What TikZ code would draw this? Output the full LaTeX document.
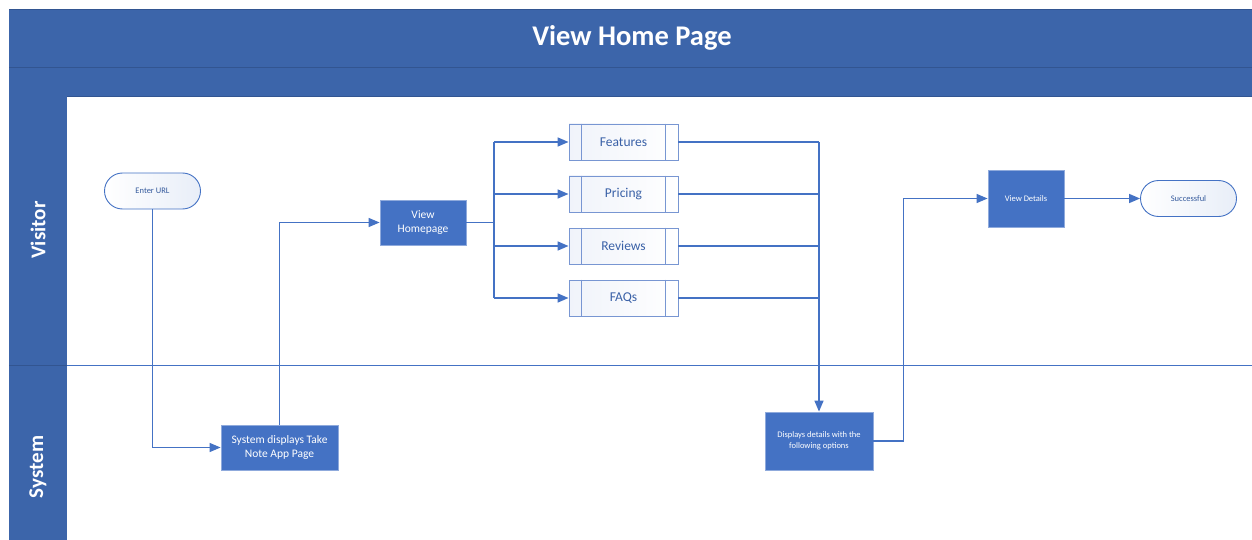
\documentclass[tikz,border=0pt]{standalone}
\usepackage{fontspec}
\setmainfont{Carlito}
\usetikzlibrary{arrows.meta,shapes.misc}
\definecolor{hdr}{RGB}{60,101,170}
\definecolor{hdrline}{RGB}{50,85,145}
\definecolor{ln}{RGB}{68,114,196}
\definecolor{boxfill}{RGB}{68,114,196}
\definecolor{subdraw}{RGB}{120,150,210}
\tikzset{
  flow/.style={draw=ln, line width=1.4pt, -{Triangle[length=11pt,width=9pt]}},
  plain/.style={draw=ln, line width=1.4pt},
  procbox/.style={draw=ln!60, fill=boxfill, text=white, minimum width=#1, inner sep=0pt, align=center, line width=0.8pt},
  term/.style={rounded rectangle, draw=ln, line width=0.9pt, left color=white, right color={rgb,255:red,232;green,238;blue,248}, text=ln!80!black, minimum width=96pt, minimum height=36pt, inner xsep=0pt, font=\fontsize{8.5}{10}\selectfont},
  subbox/.style={draw=subdraw, line width=0.9pt, left color={rgb,255:red,240;green,243;blue,250}, right color=white, text=ln!85!black, minimum width=109pt, minimum height=36pt, font=\fontsize{13.5}{15}\selectfont, inner sep=0pt},
  lanelbl/.style={rotate=90, text=white, font=\bfseries\fontsize{21}{24}\selectfont}
}
\begin{document}
\begin{tikzpicture}[x=1pt,y=-1pt]
\useasboundingbox (0,0) rectangle (1252,540);
% header
\fill[hdr] (9,9) rectangle (1252,96);
\draw[hdrline, line width=0.8pt] (9,9) -- (1252,9);
\draw[hdrline, line width=0.8pt] (9,67) -- (1252,67);
\draw[hdrline, line width=0.8pt] (9,96) -- (1252,96);
\node[text=white, font=\bfseries\fontsize{28.5}{30}\selectfont] (title) at (632,38) {View Home Page};
% lane column
\fill[hdr] (9,96) rectangle (67,540);
\draw[hdrline, line width=0.8pt] (9,365) -- (67,365);
\draw[ln, line width=1pt] (67,365) -- (1252,365);
\node[lanelbl] (visitor) at (38,230) {Visitor};
\node[lanelbl] (system) at (38,467) {System};
% nodes
\node[term] (url) at (152.5,191) {Enter URL};
\node[procbox=117pt, minimum height=45pt, font=\fontsize{11.5}{14}\selectfont] (sys) at (279.5,447.5) {System displays Take\\Note App Page};
\node[procbox=86pt, minimum height=45pt, font=\fontsize{11.5}{14}\selectfont] (home) at (423,222.5) {View\\Homepage};
\foreach \n/\t/\y in {feat/Features/142, pric/Pricing/194, rev/Reviews/246, faq/FAQs/298}{
  \node[subbox] (\n) at (623.5,\y) {\t};
  \draw[subdraw, line width=0.8pt] ([xshift=13pt]\n.north west) -- ([xshift=13pt]\n.south west);
  \draw[subdraw, line width=0.8pt] ([xshift=-13pt]\n.north east) -- ([xshift=-13pt]\n.south east);
}
\node[procbox=108pt, minimum height=58pt, font=\fontsize{8.5}{11}\selectfont] (disp) at (819,441) {Displays details with the\\following options};
\node[procbox=76pt, minimum height=57pt, font=\fontsize{8.5}{10}\selectfont] (vd) at (1026,198.5) {View Details};
\node[term] (succ) at (1188.5,198.5) {Successful};
% connectors
\coordinate (fork) at (494,222.5);
\coordinate (join) at (819,142);
\draw[flow] (url.south) |- (sys.west);
\draw[flow] (sys.north) |- (home.west);
\draw[plain] (home.east) -- (fork);
\draw[plain] (fork |- feat.west) -- (fork |- faq.west);
\foreach \n in {feat,pric,rev,faq}{
  \draw[flow] (fork |- \n.west) -- (\n.west);
  \draw[plain] (\n.east) -- (join |- \n.east);
}
\draw[flow] (join) -- (disp.north);
\draw[flow] (disp.east) -- ++(30,0) |- (vd.west);
\draw[flow] (vd.east) -- (succ.west);
\end{tikzpicture}
\end{document}
